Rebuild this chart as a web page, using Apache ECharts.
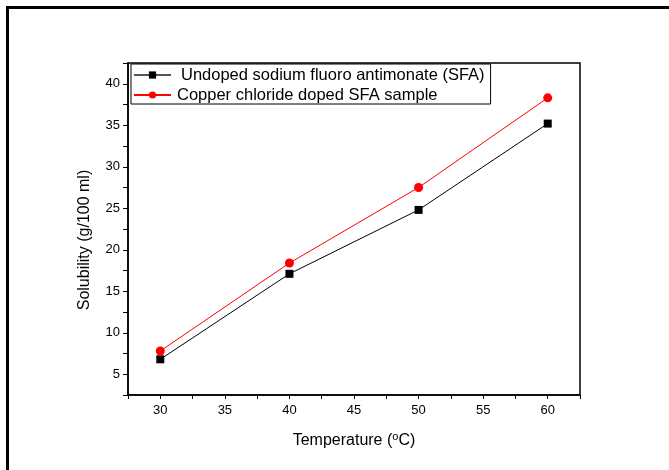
<!DOCTYPE html>
<html>
<head>
<meta charset="utf-8">
<script src="https://cdn.jsdelivr.net/npm/echarts@6/dist/echarts.min.js"></script>
<style>
html,body{margin:0;padding:0;background:#fff;}
#chart{width:669px;height:470px;}
</style>
</head>
<body>
<div id="chart"></div>
<script>
var temperatures = [30, 40, 50, 60];
var undopedSFA = [6.8, 17.1, 24.8, 35.2];
var copperDopedSFA = [7.8, 18.4, 27.5, 38.3];
var seriesNames = ['Undoped sodium fluoro antimonate (SFA)', 'Copper chloride doped SFA sample'];
var xTickLabels = [30, 35, 40, 45, 50, 55, 60];
var yTickLabels = [5, 10, 15, 20, 25, 30, 35, 40];

var FONT = '"Liberation Sans", Arial, sans-serif';
function pairs(xs, ys) { return xs.map(function (x, i) { return [x, ys[i]]; }); }

var chart = echarts.init(document.getElementById('chart'), null, {renderer: 'canvas'});
chart.setOption({
  animation: false,
  backgroundColor: '#fff',
  grid: {left: 128, right: 89, top: 63, bottom: 75, show: true, borderColor: '#000', borderWidth: 1.5, backgroundColor: 'transparent'},
  legend: {
    orient: 'vertical', left: 131, top: 64,
    padding: [2, 6, 0, 2], itemGap: 2,
    itemWidth: 37, itemHeight: 9,
    borderColor: '#000', borderWidth: 1, backgroundColor: '#fff',
    textStyle: {fontFamily: FONT, fontSize: 16.5, color: '#000', lineHeight: 18, padding: [0, 0, 0, 5]},
    data: [
      {name: seriesNames[0], lineStyle: {color: '#555'}},
      {name: seriesNames[1], textStyle: {padding: [0, 0, 0, 1]}}
    ]
  },
  xAxis: {
    type: 'value', min: 27.5, max: 62.5, interval: 2.5,
    name: '{a|Temperature (}{s|o}{a|C)}', nameLocation: 'middle', nameGap: 36,
    nameTextStyle: {rich: {
      a: {fontFamily: FONT, fontSize: 16, color: '#000', lineHeight: 18, verticalAlign: 'bottom'},
      s: {fontFamily: FONT, fontSize: 11, color: '#000', verticalAlign: 'bottom', lineHeight: 12, padding: [0, 0, 7, 0]}
    }},
    axisLine: {lineStyle: {color: '#000', width: 1.5}},
    axisTick: {inside: false, length: 4, lineStyle: {color: '#000', width: 1}},
    axisLabel: {fontFamily: FONT, fontSize: 13, color: '#000', margin: 9,
      formatter: function (v) { return xTickLabels.indexOf(v) >= 0 ? String(v) : ''; }},
    splitLine: {show: false}
  },
  yAxis: {
    type: 'value', min: 2.5, max: 42.5, interval: 2.5,
    name: 'Solubility (g/100 ml)', nameLocation: 'middle', nameGap: 35,
    nameTextStyle: {fontFamily: FONT, fontSize: 16, color: '#000', padding: [0, 22, 0, 0]},
    axisLine: {show: true, lineStyle: {color: '#000', width: 1.5}},
    axisTick: {show: true, inside: false, length: 5, lineStyle: {color: '#000', width: 1}},
    axisLabel: {fontFamily: FONT, fontSize: 13, color: '#000', margin: 8,
      formatter: function (v) { return yTickLabels.indexOf(v) >= 0 ? String(v) : ''; }},
    splitLine: {show: false}
  },
  series: [
    {name: seriesNames[0], type: 'line', data: pairs(temperatures, undopedSFA),
      symbol: 'rect', symbolSize: 8, color: '#000',
      lineStyle: {color: '#000', width: 1}, itemStyle: {color: '#000'}},
    {name: seriesNames[1], type: 'line', data: pairs(temperatures, copperDopedSFA),
      symbol: 'circle', symbolSize: 9, color: '#ff0000',
      lineStyle: {color: '#ff0000', width: 1}, itemStyle: {color: '#ff0000'}}
  ],
  graphic: [
    {type: 'rect', left: 6, top: 6, shape: {width: 3, height: 464}, style: {fill: '#000'}, silent: true},
    {type: 'rect', left: 6, top: 6, shape: {width: 663, height: 3}, style: {fill: '#000'}, silent: true}
  ]
});
</script>
</body>
</html>
